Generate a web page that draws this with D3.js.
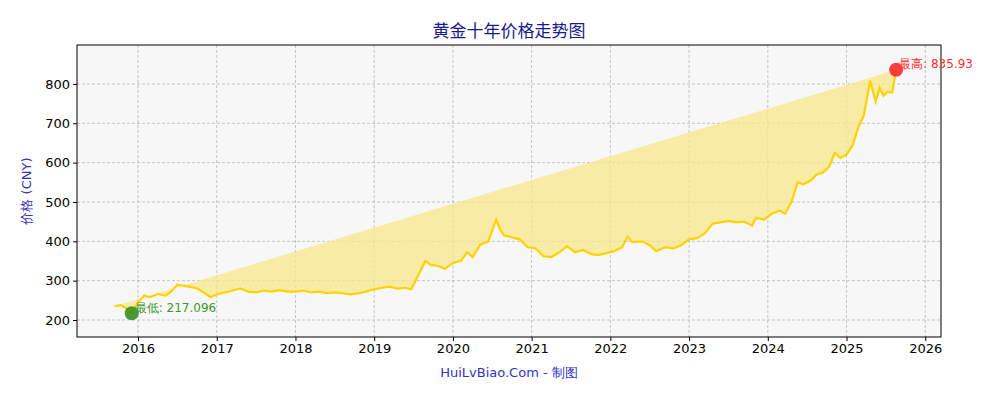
<!doctype html>
<html>
<head>
<meta charset="UTF-8">
<script src="https://d3js.org/d3.v7.min.js"></script>
<style>
  body { margin: 0; background: #fff; font-family: "DejaVu Sans", sans-serif; }
</style>
</head>
<body>
<div id="chart"></div>
<script>
// decimal year / price (CNY per gram)
var years = [2015.70,2015.78,2015.85,2015.92,2016.00,2016.08,2016.15,2016.25,2016.35,2016.42,2016.50,2016.55,2016.65,2016.75,2016.82,2016.92,2017.00,2017.10,2017.20,2017.30,2017.40,2017.50,2017.60,2017.70,2017.80,2017.90,2018.00,2018.10,2018.20,2018.30,2018.40,2018.50,2018.60,2018.70,2018.80,2018.90,2019.00,2019.10,2019.20,2019.30,2019.40,2019.47,2019.55,2019.65,2019.72,2019.80,2019.90,2020.00,2020.10,2020.18,2020.25,2020.35,2020.45,2020.55,2020.60,2020.65,2020.75,2020.85,2020.95,2021.05,2021.15,2021.25,2021.35,2021.45,2021.55,2021.65,2021.75,2021.85,2021.95,2022.05,2022.15,2022.22,2022.28,2022.40,2022.50,2022.58,2022.70,2022.80,2022.90,2023.00,2023.10,2023.20,2023.30,2023.40,2023.50,2023.60,2023.70,2023.80,2023.85,2023.95,2024.05,2024.15,2024.22,2024.30,2024.38,2024.45,2024.55,2024.62,2024.70,2024.78,2024.85,2024.92,2025.00,2025.08,2025.15,2025.22,2025.30,2025.37,2025.42,2025.47,2025.52,2025.58,2025.63,2025.69,2025.71];
var prices = [235,238,230,217.096,245,262,258,266,262,272,290,288,285,280,272,258,265,270,275,280,272,270,275,272,276,272,272,275,270,272,268,270,268,265,268,272,278,282,285,280,282,278,310,350,340,338,330,345,350,372,360,392,400,455,430,415,410,405,385,382,362,360,372,388,372,378,368,365,370,375,385,412,398,400,390,375,385,382,390,405,408,420,445,448,452,448,450,440,460,455,470,478,470,500,550,545,555,570,575,590,625,612,620,645,690,720,808,755,790,770,780,778,835.93];
var data = years.map(function(y, i) { return { x: y, v: prices[i] }; });
var xTicks = [2016,2017,2018,2019,2020,2021,2022,2023,2024,2025,2026];
var yTicks = [200,300,400,500,600,700,800];

var W = 1000, H = 400,
  pLeft = 77, pRight = 941, pTop = 45, pBottom = 337;

var svg = d3.select("#chart").append("svg").attr("width", W).attr("height", H);

var x = d3.scaleLinear().domain([2015.225, 2026.2]).range([pLeft, pRight]);
var y = d3.scaleLinear().domain([156.8, 899]).range([pBottom, pTop]);

svg.append("rect").attr("x", pLeft).attr("y", pTop)
  .attr("width", pRight - pLeft).attr("height", pBottom - pTop).attr("fill", "#f7f7f7");

// grid
svg.selectAll(".gx").data(xTicks).enter().append("line")
  .attr("x1", function(d) { return x(d); }).attr("x2", function(d) { return x(d); })
  .attr("y1", pTop).attr("y2", pBottom)
  .attr("stroke", "#b0b0b0").attr("stroke-width", 0.7).attr("stroke-dasharray", "3,2");
svg.selectAll(".gy").data(yTicks).enter().append("line")
  .attr("x1", pLeft).attr("x2", pRight)
  .attr("y1", function(d) { return y(d); }).attr("y2", function(d) { return y(d); })
  .attr("stroke", "#b0b0b0").attr("stroke-width", 0.7).attr("stroke-dasharray", "3,2");

var area = d3.area().x(function(d) { return x(d.x); }).y0(pBottom).y1(function(d) { return y(d.v); });
var line = d3.line().x(function(d) { return x(d.x); }).y(function(d) { return y(d.v); });

svg.append("path").attr("d", area(data)).attr("fill", "#f7e78a").attr("opacity", 0.75);
svg.append("path").attr("d", line(data)).attr("fill", "none")
  .attr("stroke", "#ffd200").attr("stroke-width", 2.2);

svg.append("rect").attr("x", pLeft).attr("y", pTop)
  .attr("width", pRight - pLeft).attr("height", pBottom - pTop)
  .attr("fill", "none").attr("stroke", "#000").attr("stroke-width", 1);

// axes
svg.append("g").attr("transform", "translate(0," + pBottom + ")")
  .call(d3.axisBottom(x).tickValues(xTicks).tickFormat(d3.format("d")).tickSize(4).tickSizeOuter(0))
  .call(function(g) { g.select(".domain").remove(); g.selectAll("text").attr("font-size", 13).attr("fill", "#000").attr("font-family", "DejaVu Sans"); });
svg.append("g").attr("transform", "translate(" + pLeft + ",0)")
  .call(d3.axisLeft(y).tickValues(yTicks).tickSize(4).tickSizeOuter(0))
  .call(function(g) { g.select(".domain").remove(); g.selectAll("text").attr("font-size", 13).attr("fill", "#000").attr("font-family", "DejaVu Sans"); });

// min / max markers
var minD = data.reduce(function(a, b) { return b.v < a.v ? b : a; });
var maxD = data.reduce(function(a, b) { return b.v > a.v ? b : a; });
svg.append("circle").attr("cx", x(minD.x)).attr("cy", y(minD.v)).attr("r", 7).attr("fill", "#2a8a1a").attr("opacity", 0.85);
svg.append("text").attr("x", x(minD.x) + 3).attr("y", y(minD.v) - 1).attr("fill", "#3a9a2a")
  .attr("font-size", 12).text("最低: " + minD.v);
svg.append("circle").attr("cx", x(maxD.x)).attr("cy", y(maxD.v)).attr("r", 7).attr("fill", "#ff2020").attr("opacity", 0.85);
svg.append("text").attr("x", x(maxD.x) + 3).attr("y", y(maxD.v) - 2).attr("fill", "#ff3030")
  .attr("font-size", 12).text("最高: " + maxD.v);

// titles
svg.append("text").attr("x", (pLeft + pRight) / 2).attr("y", 37).attr("text-anchor", "middle")
  .attr("font-size", 17).attr("fill", "#1a1a8a").attr("font-family", "Noto Sans CJK SC").text("黄金十年价格走势图");
svg.append("text").attr("transform", "translate(31," + ((pTop + pBottom) / 2) + ") rotate(-90)")
  .attr("text-anchor", "middle").attr("font-size", 13).attr("fill", "#3333bb").text("价格 (CNY)");
svg.append("text").attr("x", (pLeft + pRight) / 2).attr("y", 377).attr("text-anchor", "middle")
  .attr("font-size", 13).attr("fill", "#3333bb").text("HuiLvBiao.Com - 制图");
</script>
</body>
</html>
